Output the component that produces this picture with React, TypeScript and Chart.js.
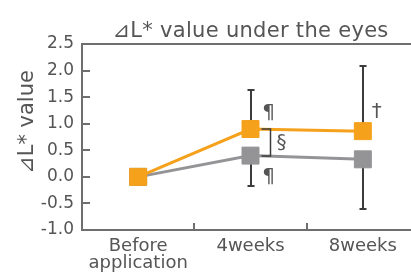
import React, { useEffect, useRef } from "react";
import { Chart, registerables } from "chart.js";

Chart.register(...registerables);

const categories: (string | string[])[] = [["Before", "application"], "4weeks", "8weeks"];
const treatedValues = [0, 0.9, 0.86];
const controlValues = [0, 0.4, 0.33];
const treatedErrUp = [0, 0.73, 1.23];
const controlErrDown = [0, 0.58, 0.94];
const yMin = -1.0;
const yMax = 2.5;
const yStep = 0.5;
const titleText = "⊿L* value under the eyes";
const yTitle = "⊿L* value";
const treatedMarks = ["", "¶", "†"];
const controlMarks = ["", "¶", ""];
const betweenMarks = ["", "§", ""];

const ORANGE = "#F5A11C";
const GRAY = "#949497";
const AXIS = "#6e6e6e";
const TEXT = "#555555";
const ERR = "#3c3c3c";
const FONT = "'DejaVu Sans', sans-serif";

export default function App() {
  const ref = useRef<HTMLCanvasElement | null>(null);
  useEffect(() => {
    document.body.style.margin = "0";
    const canvas = ref.current!;
    const overlay = {
      id: "overlay",
      beforeDatasetsDraw(chart: any) {
        const { ctx, chartArea } = chart;
        const x = chart.scales.x;
        const y = chart.scales.y;
        ctx.save();
        ctx.strokeStyle = AXIS;
        ctx.lineWidth = 2;
        ctx.beginPath();
        ctx.moveTo(chartArea.left - 1, chartArea.top);
        ctx.lineTo(chartArea.right + 1, chartArea.top);
        ctx.stroke();
        for (let v = yMin + yStep; v < yMax - 1e-9; v += yStep) {
          const py = Math.round(y.getPixelForValue(v));
          ctx.beginPath();
          ctx.moveTo(chartArea.left, py);
          ctx.lineTo(chartArea.left + 8, py);
          ctx.stroke();
        }
        for (let i = 0; i < categories.length - 1; i++) {
          const px = Math.round((x.getPixelForValue(i) + x.getPixelForValue(i + 1)) / 2);
          ctx.beginPath();
          ctx.moveTo(px, chartArea.bottom);
          ctx.lineTo(px, chartArea.bottom - 7);
          ctx.stroke();
        }
        ctx.strokeStyle = ERR;
        ctx.lineWidth = 2;
        const bar = (i: number, v0: number, v1: number) => {
          const px = Math.round(x.getPixelForValue(i));
          const p0 = y.getPixelForValue(v0);
          const p1 = Math.round(y.getPixelForValue(v1));
          ctx.beginPath();
          ctx.moveTo(px, p0);
          ctx.lineTo(px, p1);
          ctx.moveTo(px - 3.5, p1);
          ctx.lineTo(px + 3.5, p1);
          ctx.stroke();
        };
        for (let i = 0; i < categories.length; i++) {
          if (treatedErrUp[i] > 0) bar(i, treatedValues[i], treatedValues[i] + treatedErrUp[i]);
          if (controlErrDown[i] > 0) bar(i, controlValues[i], controlValues[i] - controlErrDown[i]);
        }
        ctx.restore();
      },
      afterDraw(chart: any) {
        const { ctx, chartArea } = chart;
        const x = chart.scales.x;
        const y = chart.scales.y;
        ctx.save();
        ctx.fillStyle = TEXT;
        ctx.textAlign = "center";
        ctx.textBaseline = "alphabetic";
        ctx.font = `21px ${FONT}`;
        try { (ctx as any).letterSpacing = "0.3px"; } catch (e) {}
        ctx.fillText(titleText, (chartArea.left + chartArea.right) / 2, 37);
        try { (ctx as any).letterSpacing = "0px"; } catch (e) {}
        ctx.save();
        ctx.translate(33, 122);
        ctx.rotate(-Math.PI / 2);
        ctx.fillText(yTitle, 0, 0);
        ctx.restore();
        ctx.textBaseline = "middle";
        ctx.font = `20px ${FONT}`;
        for (let i = 0; i < categories.length; i++) {
          const px = x.getPixelForValue(i);
          if (treatedMarks[i]) {
            const above = treatedMarks[i] === "¶" ? 16 : 19;
            const dx = treatedMarks[i] === "¶" ? 18 : 14;
            ctx.fillText(treatedMarks[i], px + dx, y.getPixelForValue(treatedValues[i]) - above);
          }
          if (controlMarks[i]) {
            ctx.fillText(controlMarks[i], px + 18, y.getPixelForValue(controlValues[i]) + 21);
          }
          if (betweenMarks[i]) {
            const ya = Math.round(y.getPixelForValue(treatedValues[i]));
            const yb = Math.round(y.getPixelForValue(controlValues[i]));
            ctx.strokeStyle = ERR;
            ctx.lineWidth = 1.5;
            ctx.beginPath();
            ctx.moveTo(px + 11, ya);
            ctx.lineTo(px + 20, ya);
            ctx.lineTo(px + 20, yb);
            ctx.lineTo(px + 11, yb);
            ctx.stroke();
            ctx.fillText(betweenMarks[i], px + 31, (ya + yb) / 2);
          }
        }
        ctx.restore();
      },
    };
    const chart = new Chart(canvas, {
      type: "line",
      data: {
        labels: categories as any,
        datasets: [
          {
            data: treatedValues,
            borderColor: ORANGE,
            backgroundColor: ORANGE,
            borderWidth: 3,
            pointStyle: "rect",
            pointRadius: 12,
            pointBorderWidth: 1,
            pointBorderColor: ORANGE,
            pointBackgroundColor: ORANGE,
          },
          {
            data: controlValues,
            borderColor: GRAY,
            backgroundColor: GRAY,
            borderWidth: 3,
            pointStyle: "rect",
            pointRadius: 12,
            pointBorderWidth: 1,
            pointBorderColor: GRAY,
            pointBackgroundColor: GRAY,
          },
        ],
      },
      options: {
        animation: false,
        responsive: false,
        devicePixelRatio: 1,
        layout: { padding: { top: 44, right: 0, left: 0, bottom: 0 } },
        plugins: { legend: { display: false }, tooltip: { enabled: false }, title: { display: false } },
        scales: {
          x: {
            offset: true,
            grid: { display: false, drawTicks: false },
            border: { display: true, color: AXIS, width: 2 },
            ticks: { color: TEXT, font: { family: FONT, size: 18, lineHeight: 0.95 }, padding: 8, maxRotation: 0, autoSkip: false },
            afterFit: (s: any) => { s.height = 45; s.paddingLeft = 0; s.paddingRight = 0; },
          },
          y: {
            min: yMin,
            max: yMax,
            grid: { display: false, drawTicks: false },
            border: { display: true, color: AXIS, width: 2 },
            ticks: {
              stepSize: yStep,
              color: TEXT,
              font: { family: FONT, size: 17 },
              padding: 8,
              callback: (v: any) => Number(v).toFixed(1),
            },
            afterFit: (s: any) => { s.width = 82; },
          },
        },
      },
      plugins: [overlay],
    });
    return () => chart.destroy();
  }, []);
  return (
    <div style={{ width: 411, height: 275, overflow: "hidden" }}>
      <canvas ref={ref} width={432} height={275} style={{ width: 432, height: 275, maxWidth: "none", display: "block" }} />
    </div>
  );
}
